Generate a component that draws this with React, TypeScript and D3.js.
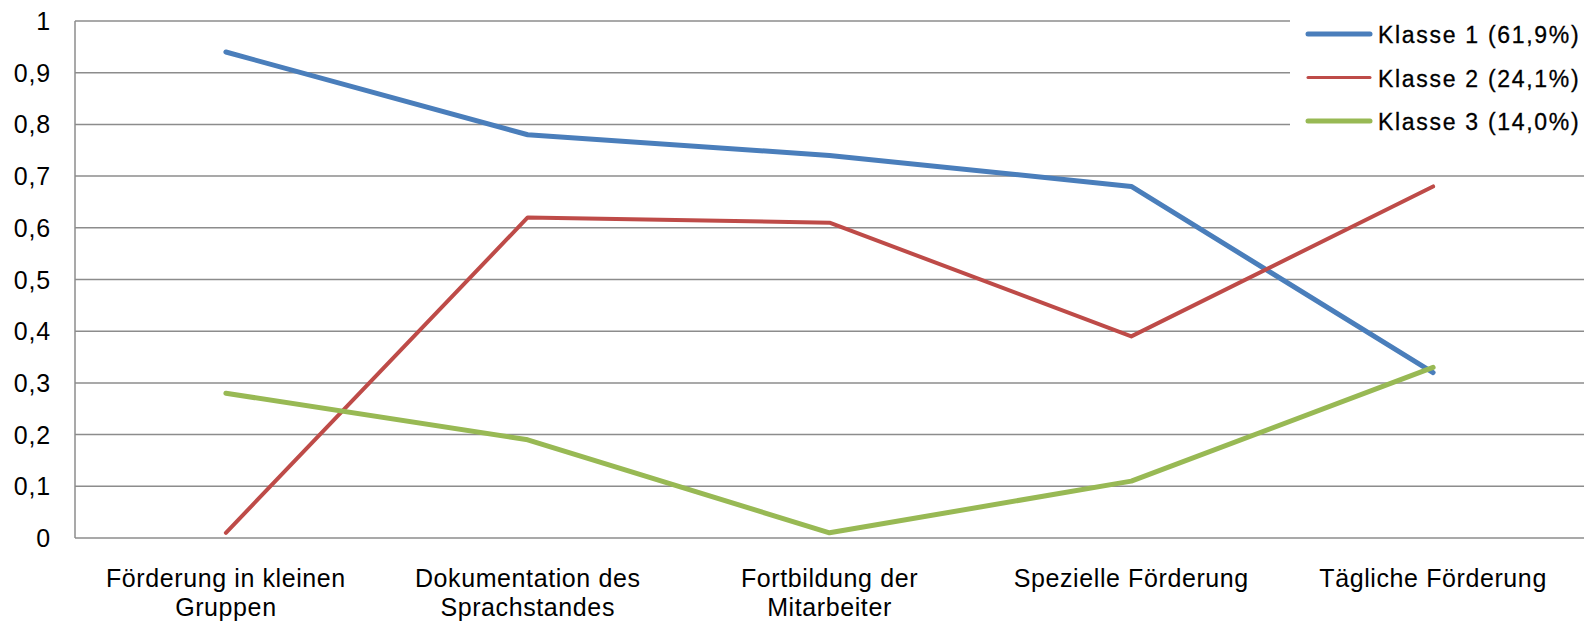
import React from "react";
import * as d3 from "d3";

const categories: string[][] = [
  ["Förderung in kleinen", "Gruppen"],
  ["Dokumentation des", "Sprachstandes"],
  ["Fortbildung der", "Mitarbeiter"],
  ["Spezielle Förderung"],
  ["Tägliche Förderung"],
];
const klasse1 = [0.94, 0.78, 0.74, 0.68, 0.32];
const klasse2 = [0.01, 0.62, 0.61, 0.39, 0.68];
const klasse3 = [0.28, 0.19, 0.01, 0.11, 0.33];
const seriesNames = ["Klasse 1 (61,9%)", "Klasse 2 (24,1%)", "Klasse 3 (14,0%)"];
const yTicks = [0, 0.1, 0.2, 0.3, 0.4, 0.5, 0.6, 0.7, 0.8, 0.9, 1];
const yTickLabels = ["0", "0,1", "0,2", "0,3", "0,4", "0,5", "0,6", "0,7", "0,8", "0,9", "1"];

const W = 1589;
const H = 624;
const left = 75;
const right = 1584;
const top = 21;
const bottom = 538;

export default function App() {
  const x = d3
    .scaleBand<number>()
    .domain(categories.map((_, i) => i))
    .range([left, right]);
  const y = d3.scaleLinear().domain([0, 1]).range([bottom, top]);
  const cx = (i: number) => (x(i) as number) + x.bandwidth() / 2;
  const line = d3
    .line<number>()
    .x((_, i) => cx(i))
    .y((d) => y(d));

  const series = [
    { name: seriesNames[0], values: klasse1, color: "#4a7ebb", width: 5 },
    { name: seriesNames[1], values: klasse2, color: "#be4b48", width: 4 },
    { name: seriesNames[2], values: klasse3, color: "#98b954", width: 5 },
  ];

  const font = "'Liberation Sans', Arial, sans-serif";

  return (
    <svg
      width={W}
      height={H}
      style={{ position: "absolute", left: 0, top: 0, background: "#fff" }}
      fontFamily={font}
    >
      <rect x={0} y={0} width={W} height={H} fill="#fff" />
      {yTicks.map((t, i) => (
        <line
          key={"g" + i}
          x1={left}
          x2={right}
          y1={y(t)}
          y2={y(t)}
          stroke="#8c8c8c"
          strokeWidth={1.5}
        />
      ))}
      <line x1={left} x2={left} y1={top} y2={bottom} stroke="#8c8c8c" strokeWidth={1.5} />
      {yTicks.map((t, i) => (
        <text
          key={"yl" + i}
          x={51}
          y={y(t)}
          dy="0.36em"
          textAnchor="end"
          fontSize={25}
          letterSpacing={0.8}
          fill="#000"
        >
          {yTickLabels[i]}
        </text>
      ))}
      {categories.map((c, i) => (
        <text key={"xl" + i} textAnchor="middle" fontSize={25} letterSpacing={0.6} fill="#000">
          {c.map((l, j) => (
            <tspan key={j} x={cx(i)} y={587 + j * 29}>
              {l}
            </tspan>
          ))}
        </text>
      ))}
      {series.map((s) => (
        <path
          key={s.name}
          d={line(s.values) || ""}
          fill="none"
          stroke={s.color}
          strokeWidth={s.width}
          strokeLinecap="round"
          strokeLinejoin="round"
        />
      ))}
      <rect x={1290} y={12} width={W - 1290} height={138} fill="#fff" />
      {series.map((s, i) => (
        <g key={"lg" + i}>
          <line
            x1={1308}
            x2={1370}
            y1={34 + i * 43.5}
            y2={34 + i * 43.5}
            stroke={s.color}
            strokeWidth={i === 1 ? 3 : 5}
            strokeLinecap="round"
          />
          <text
            x={1378}
            y={43 + i * 43.5}
            fontSize={23}
            letterSpacing={1.7}
            fill="#000"
            stroke="#000"
            strokeWidth={0.3}
          >
            {s.name}
          </text>
        </g>
      ))}
    </svg>
  );
}
